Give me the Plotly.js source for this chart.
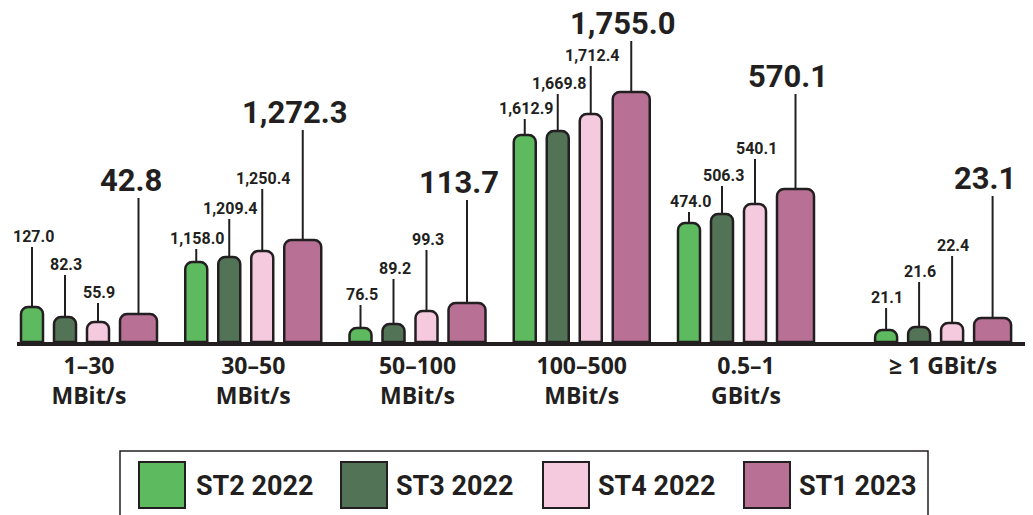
<!DOCTYPE html>
<html><head><meta charset="utf-8">
<script src="https://cdn.plot.ly/plotly-3.0.1.min.js"></script>
<style>html,body{margin:0;padding:0;background:#fff}#chart{width:1033px;height:515px}</style>
</head><body><div id="chart"></div>
<script>
// ---------------- data ----------------
const categories = ['1–30<br>MBit/s', '30–50<br>MBit/s', '50–100<br>MBit/s', '100–500<br>MBit/s', '0.5–1<br>GBit/s', '≥ 1 GBit/s'];
const seriesNames = ['ST2 2022', 'ST3 2022', 'ST4 2022', 'ST1 2023'];
const st2_2022 = [127.0, 1158.0, 76.5, 1612.9, 474.0, 21.1];
const st3_2022 = [82.3, 1209.4, 89.2, 1669.8, 506.3, 21.6];
const st4_2022 = [55.9, 1250.4, 99.3, 1712.4, 540.1, 22.4];
const st1_2023 = [42.8, 1272.3, 113.7, 1755.0, 570.1, 23.1];
// the original draws its bars illustratively (not to value scale); drawn heights
const drawn_st2 = [35, 80, 14, 207, 119, 12];
const drawn_st3 = [25, 85, 18, 211, 128, 15];
const drawn_st4 = [20, 91, 31, 228, 138, 19];
const drawn_st1 = [28, 102, 39, 250, 153, 24];

// ---------------- layout / style ----------------
const W = 1033, H = 515, ML = 17, MR = 8, MT = 0, MB = 173;
const plotW = W - ML - MR, plotH = H - MT - MB;
const slots = [0, 1, 2, 3, 4, 5.2];
const unitPx = 164.25;
const xr0 = -(89 - ML) / unitPx, xr1 = xr0 + plotW / unitPx;
const colors = ['#5dba5e', '#537356', '#f6cade', '#b87094'];
const barOffsetPx = [-68, -35, -2, 31];
const barWidthPx = [22, 22, 22, 37];
const leaderLen = [
  [60, 13, 23, 16, 11, 22],
  [42, 38, 45, 37, 28, 45],
  [19, 62, 61, 48, 45, 67],
  [116, 110, 103, 51, 95, 122]
];
const ink = '#231f20';
const FONT = 'Roboto, "Open Sans", sans-serif';
const TICKFONT = '"Open Sans", Roboto, sans-serif';

const values = [st2_2022, st3_2022, st4_2022, st1_2023];
const drawn = [drawn_st2, drawn_st3, drawn_st4, drawn_st1];

function fmt(v) {
  return v.toLocaleString('en-US', {minimumFractionDigits: 1, maximumFractionDigits: 1});
}

const traces = seriesNames.map((name, s) => ({
  type: 'bar',
  name: name,
  x: slots,
  y: drawn[s],
  offset: barOffsetPx[s] / unitPx,
  width: barWidthPx[s] / unitPx,
  marker: {color: colors[s], line: {color: ink, width: 2.5}, cornerradius: 7},
  customdata: values[s],
  hovertemplate: name + ': %{customdata}<extra></extra>',
  showlegend: false
}));

const shapes = [];
const annotations = [];
values.forEach((vals, s) => {
  vals.forEach((v, i) => {
    const cx = slots[i] + (barOffsetPx[s] + barWidthPx[s] / 2) / unitPx;
    const top = drawn[s][i];
    const lineTop = top + leaderLen[s][i];
    const big = s === 3;
    shapes.push({type: 'line', xref: 'x', yref: 'y', x0: cx, x1: cx, y0: top, y1: lineTop,
      line: {color: ink, width: 2}, layer: 'below'});
    annotations.push({
      xref: 'x', yref: 'y', x: cx, y: lineTop + (big ? 18 : 10.5),
      xshift: big ? -8 : 1,
      text: fmt(v), showarrow: false, xanchor: 'center', yanchor: 'middle',
      font: {family: FONT, size: big ? 31 : 16, weight: 700, color: ink}
    });
  });
});

// custom legend (paper coordinates from pixel positions)
const px2x = p => (p - ML) / plotW;
const py2y = p => (H - MB - p) / plotH;
shapes.push({type: 'rect', xref: 'paper', yref: 'paper', x0: px2x(120), x1: px2x(928), y0: py2y(451), y1: py2y(530),
  line: {color: ink, width: 1.5}, fillcolor: 'rgba(0,0,0,0)'});
const legSwatchX = [139, 341, 543, 744];
const legTextX = [194, 394, 596, 797];
seriesNames.forEach((name, s) => {
  shapes.push({type: 'rect', xref: 'paper', yref: 'paper',
    x0: px2x(legSwatchX[s]), x1: px2x(legSwatchX[s] + 46), y0: py2y(462), y1: py2y(508),
    line: {color: ink, width: 2}, fillcolor: colors[s]});
  annotations.push({xref: 'paper', yref: 'paper', x: px2x(legTextX[s]), y: py2y(486),
    xanchor: 'left', yanchor: 'middle', showarrow: false, text: name,
    font: {family: FONT, size: 27, weight: 700, color: ink}});
});

const layout = {
  width: W, height: H,
  margin: {l: ML, r: MR, t: MT, b: MB, pad: 0},
  paper_bgcolor: '#ffffff', plot_bgcolor: '#ffffff',
  barmode: 'overlay',
  showlegend: false,
  xaxis: {
    range: [xr0, xr1], tickmode: 'array', tickvals: slots, ticktext: categories,
    showgrid: false, zeroline: false, showline: true, linecolor: ink, linewidth: 4,
    ticks: '', tickfont: {family: TICKFONT, size: 23, weight: 700, color: ink},
    fixedrange: true
  },
  yaxis: {range: [0, plotH], visible: false, fixedrange: true},
  shapes: shapes,
  annotations: annotations
};

Plotly.newPlot('chart', traces, layout, {displayModeBar: false, staticPlot: true});
</script>
</body></html>
